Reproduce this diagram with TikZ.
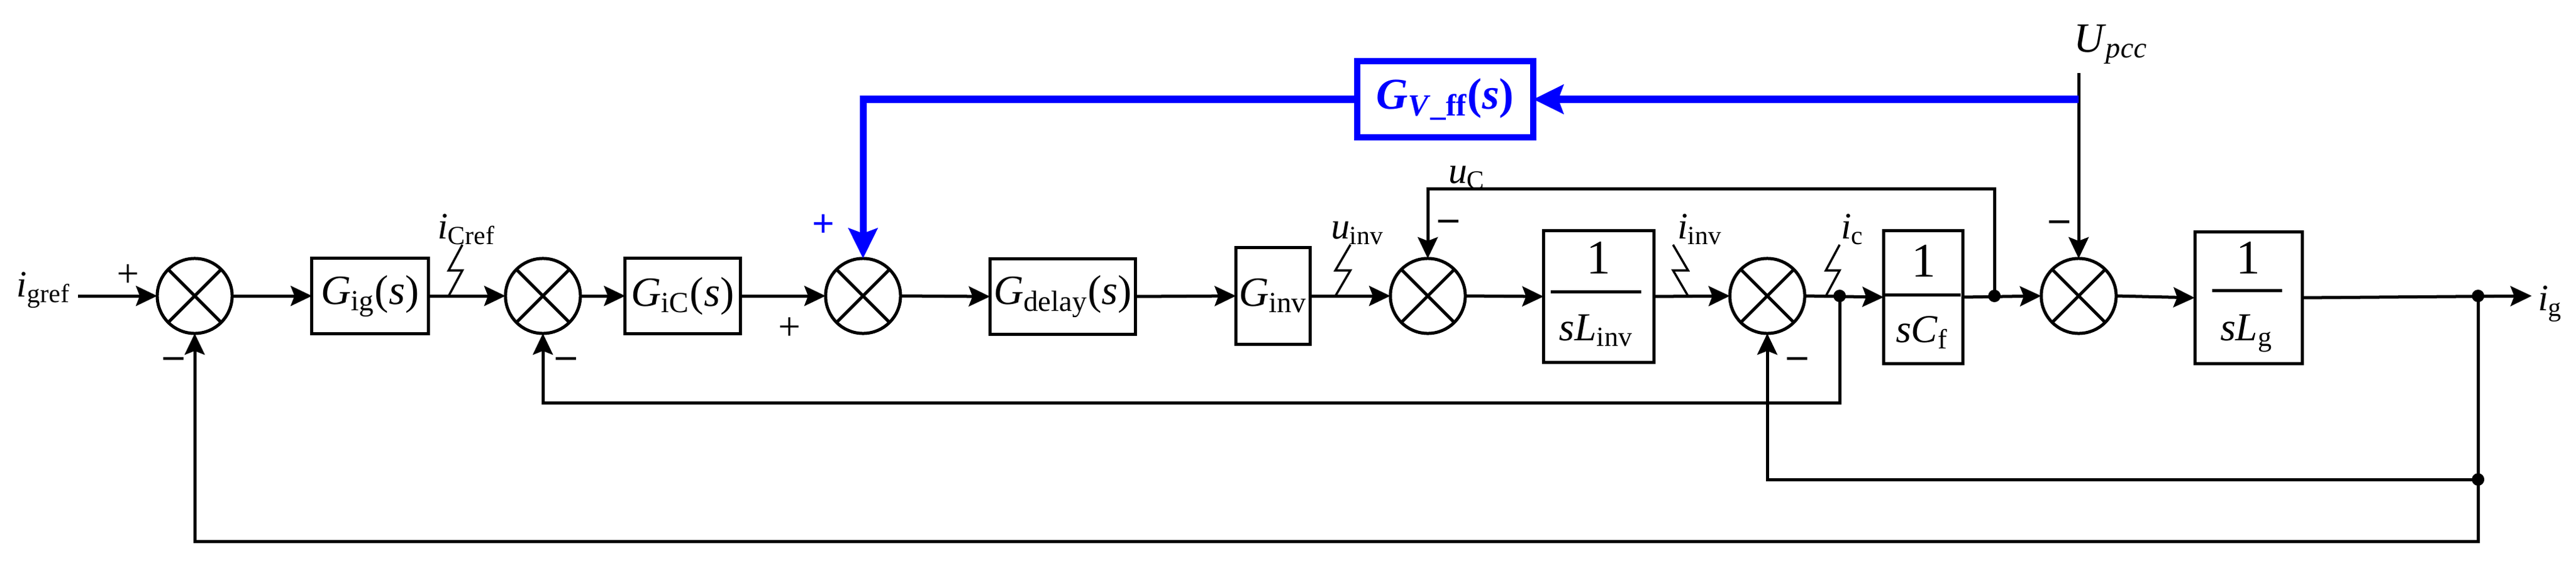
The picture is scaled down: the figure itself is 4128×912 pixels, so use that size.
\documentclass[tikz,border=0pt]{standalone}
\usepackage{fontspec}
\setmainfont{Liberation Serif}
\usetikzlibrary{arrows.meta}
\definecolor{fbblue}{RGB}{0,0,255}
\newcommand{\tsub}[1]{\textsubscript{#1}}
\begin{document}
\begin{tikzpicture}[x=0.01cm,y=-0.01cm,
  every node/.style={inner sep=0pt,outer sep=0pt,font=\fontsize{19}{22}\selectfont},
  ln/.style={line width=0.5mm},
  arr/.style={ln,-{Stealth[length=3.4mm,width=3.2mm,inset=0.6mm]}},
  zz/.style={line width=0.35mm},
  sumnode/.style={circle,draw,line width=0.5mm,minimum size=1.2cm},
  blk/.style={draw,line width=0.5mm},
  dotnode/.style={circle,fill,minimum size=2mm},
  lab/.style={anchor=base west,font=\fontsize{17}{20}\selectfont},
  sgn/.style={font=\fontsize{18}{20}\selectfont},
  num/.style={font=\fontsize{22}{24}\selectfont},
  den/.style={anchor=base,font=\fontsize{18}{20}\selectfont},
  bln/.style={draw=fbblue,line width=1.1mm},
  barr/.style={bln,-{Stealth[length=4.8mm,width=4.6mm,inset=0.8mm]}}]
\useasboundingbox (0,0) rectangle (4128,912);

% summing junctions
\node[sumnode] (s1) at (312,474) {};
\node[sumnode] (s2) at (870,474) {};
\node[sumnode] (s3) at (1383,474) {};
\node[sumnode] (s4) at (2288,474) {};
\node[sumnode] (s5) at (2832,474) {};
\node[sumnode] (s6) at (3331,474) {};
\foreach \n in {s1,s2,s3,s4,s5,s6}
  \draw[ln] (\n.45) -- (\n.225) (\n.135) -- (\n.315);

% blocks
\node[blk,minimum width=1.86cm,minimum height=1.2cm] (gig) at (593,474) {\textit{G}\tsub{ig}(\textit{s})};
\node[blk,minimum width=1.84cm,minimum height=1.2cm] (gic) at (1094,474) {\textit{G}\tsub{iC}(\textit{s})};
\node[blk,minimum width=2.33cm,minimum height=1.21cm] (gdel) at (1703,475) {\textit{G}\tsub{delay}(\textit{s})};
\node[blk,minimum width=1.19cm,minimum height=1.55cm] (ginv) at (2040,474) {\textit{G}\tsub{inv}};
\node[blk,minimum width=1.77cm,minimum height=2.11cm] (fli) at (2562,475) {};
\node[blk,minimum width=1.27cm,minimum height=2.12cm] (fcf) at (3082,476) {};
\node[blk,minimum width=1.72cm,minimum height=2.11cm] (flg) at (3603,477) {};
\node[draw=fbblue,line width=1mm,minimum width=2.82cm,minimum height=1.22cm,text=fbblue,
      font=\fontsize{20}{24}\selectfont\bfseries] (gff) at (2316,159)
      {\textit{G}\tsub{\textit{V}\_ff}(\textit{s})};

% fractions
\node[num] (n1) at (2562,413) {1};
\draw[ln] (2485,467) -- (2630,467);
\node[den] (d1t) at (2558,545) {\textit{sL}\tsub{inv}};
\node[num] (n2) at (3083,418) {1};
\draw[ln] (3021,472) -- (3142,472);
\node[den] (d2t) at (3080,548) {\textit{sC}\tsub{f}};
\node[num] (n3) at (3603,413) {1};
\draw[ln] (3545,465) -- (3657,465);
\node[den] (d3t) at (3600,545) {\textit{sL}\tsub{g}};

% junction dots and free ends
\node[dotnode] (j1) at (2948,474) {};
\node[dotnode] (j2) at (3196,474) {};
\node[dotnode] (j3) at (3971,474) {};
\node[dotnode] (j4) at (3971,768) {};
\coordinate (inp) at (125,474);
\coordinate (outp) at (4057,474);
\coordinate (c1) at (3971,867);
\coordinate (c2) at (2948,645);
\coordinate (c3) at (3196,302);
\coordinate (up) at (3331,117);
\coordinate (bst) at (3331,159);

% forward path
\draw[arr] (inp) -- (s1.west);
\draw[arr] (s1.east) -- (gig.west);
\draw[arr] (gig.east) -- (s2.west);
\draw[arr] (s2.east) -- (gic.west);
\draw[arr] (gic.east) -- (s3.west);
\draw[arr] (s3.east) -- (gdel.west);
\draw[arr] (gdel.east) -- (ginv.west);
\draw[arr] (ginv.east) -- (s4.west);
\draw[arr] (s4.east) -- (fli.west);
\draw[arr] (fli.east) -- (s5.west);
\draw[arr] (s5.east) -- (fcf.west);
\draw[arr] (fcf.east) -- (s6.west);
\draw[arr] (s6.east) -- (flg.west);
\draw[arr] (flg.east) -- (outp);

% feedback paths
\draw[arr] (j3.center) -- (c1) -| (s1.south);
\draw[arr] (j4.center) -| (s5.south);
\draw[arr] (j1.center) -- (c2) -| (s2.south);
\draw[arr] (j2.center) -- (c3) -| (s4.north);
\draw[arr] (up) -- (s6.north);

% blue feedforward
\draw[barr] (bst) -- (gff.east);
\draw[barr] (gff.west) -| (s3.north);

% current markers
\draw[zz] (741,392) -- (719,433) -- (741,433) -- (719,474);
\draw[zz] (2164,392) -- (2140,433) -- (2164,433) -- (2140,474);
\draw[zz] (2681,392) -- (2705,433) -- (2681,433) -- (2705,474);
\draw[zz] (2948,392) -- (2926,433) -- (2948,433) -- (2926,474);

% labels
\node[lab] (ligref) at (27,475) {\textit{i}\tsub{gref}};
\node[lab] (licref) at (701,382) {\textit{i}\tsub{Cref}};
\node[lab] (luinv) at (2133,382) {\textit{u}\tsub{inv}};
\node[lab] (liinv) at (2688,382) {\textit{i}\tsub{inv}};
\node[lab] (lic) at (2950,382) {\textit{i}\tsub{c}};
\node[lab] (luc) at (2321,293) {\textit{u}\tsub{C}};
\node[lab,font=\fontsize{19}{22}\selectfont] (lupcc) at (3323,83) {\textit{U}\tsub{\textit{pcc}}};
\node[lab] (lig) at (4067,497) {\textit{i}\tsub{g}};

% signs
\node[sgn] (p1) at (205,442) {+};
\node[sgn] (p2) at (1265,527) {+};
\node[sgn,text=fbblue,font=\fontsize{18}{20}\selectfont\bfseries] (p3) at (1320,362) {+};
\node[sgn] (m1) at (279,581) {\textbf{–}};
\node[sgn] (m2) at (908,581) {\textbf{–}};
\node[sgn] (m3) at (2322,361) {\textbf{–}};
\node[sgn] (m4) at (2880,581) {\textbf{–}};
\node[sgn] (m5) at (3300,362) {\textbf{–}};
\end{tikzpicture}
\end{document}
